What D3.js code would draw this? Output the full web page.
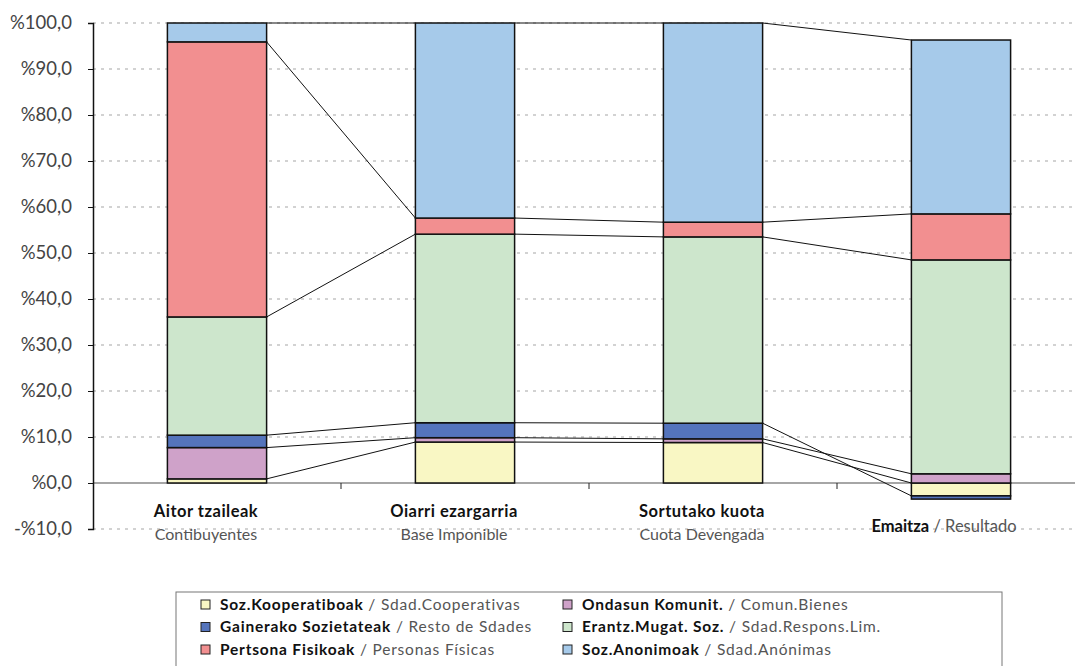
<!DOCTYPE html>
<html>
<head>
<meta charset="utf-8">
<script src="https://cdn.jsdelivr.net/npm/d3@7"></script>
<style>
  body { margin: 0; background: #fff; }
  svg { display: block; font-family: Lato, 'Open Sans', sans-serif; }
</style>
</head>
<body>
<div id="chart"></div>
<script>
// categories (bold basque / spanish)
const categories = ['Aitor tzaileak', 'Oiarri ezargarria', 'Sortutako kuota', 'Emaitza'];
const subLabels = ['Contibuyentes', 'Base Imponible', 'Cuota Devengada', 'Resultado'];

// series, bottom to top of the stack
const seriesEu = ['Soz.Kooperatiboak', 'Ondasun Komunit.', 'Gainerako Sozietateak', 'Erantz.Mugat. Soz.', 'Pertsona Fisikoak', 'Soz.Anonimoak'];
const seriesEs = ['Sdad.Cooperativas', 'Comun.Bienes', 'Resto de Sdades', 'Sdad.Respons.Lim.', 'Personas Físicas', 'Sdad.Anónimas'];
const colors = ['#f9f7c4', '#cfa2c9', '#5474bc', '#cde6cc', '#f28f90', '#a6caea'];

// percentage per category, same order as categories
const cooperativas = [0.9, 8.9, 8.8, -2.8];
const comunBienes = [6.8, 0.95, 0.8, 2.0];
const restoSdades = [2.7, 3.25, 3.4, -0.7];
const responsLim = [25.7, 41.0, 40.5, 46.5];
const personasFisicas = [59.8, 3.5, 3.2, 10.0];
const anonimas = [4.1, 42.4, 43.3, 37.8];

const yTicks = [-10, 0, 10, 20, 30, 40, 50, 60, 70, 80, 90, 100];

const allValues = [cooperativas, comunBienes, restoSdades, responsLim, personasFisicas, anonimas];

const width = 1075;
const height = 666;
const margin = { top: 23, left: 93, right: -10, bottom: 137 };

const rows = categories.map((c, i) => {
  const r = { cat: c };
  seriesEu.forEach((s, j) => { r[s] = allValues[j][i]; });
  return r;
});

const stacked = d3.stack().keys(seriesEu).offset(d3.stackOffsetDiverging)(rows);

const svg = d3.select('#chart').append('svg').attr('width', width).attr('height', height);

const x = d3.scaleBand()
  .domain(categories)
  .range([margin.left, width - margin.right])
  .paddingInner(0.6)
  .paddingOuter(0.3);

const y = d3.scaleLinear().domain([-10, 100]).range([height - margin.bottom, margin.top]);

// grid
svg.append('g')
  .selectAll('line')
  .data(yTicks.filter((t) => t !== 0))
  .join('line')
  .attr('x1', margin.left)
  .attr('x2', width - margin.right)
  .attr('y1', (d) => y(d))
  .attr('y2', (d) => y(d))
  .attr('stroke', '#c4c4c4')
  .attr('stroke-width', 1.5)
  .attr('stroke-dasharray', '3,5');

// category labels (under the bars, over the grid)
const step = x.step();
const labels = svg.append('g').attr('text-anchor', 'middle');
categories.forEach((c, i) => {
  const cx = x(c) + x.bandwidth() / 2 - 11;
  if (i < 3) {
    labels.append('text')
      .attr('x', cx).attr('y', 517)
      .attr('font-size', 16.5).attr('font-weight', 'bold').attr('fill', '#111')
      .attr('letter-spacing', 0.5)
      .text(c);
    labels.append('text')
      .attr('x', cx).attr('y', 540)
      .attr('font-size', 16).attr('fill', '#555')
      .text(subLabels[i]);
  } else {
    const t = labels.append('text')
      .attr('x', cx - 6).attr('y', 532)
      .attr('font-size', 16.5);
    t.append('tspan').attr('font-weight', 'bold').attr('fill', '#111').text(c);
    t.append('tspan').attr('fill', '#555').text(' / ' + subLabels[i]);
  }
});

// zero line
svg.append('line')
  .attr('x1', margin.left).attr('x2', width - margin.right)
  .attr('y1', y(0)).attr('y2', y(0))
  .attr('stroke', '#888').attr('stroke-width', 1.5);

// x ticks between categories
svg.append('g')
  .selectAll('line')
  .data(categories.slice(1))
  .join('line')
  .attr('x1', (d) => x(d) - step * 0.3)
  .attr('x2', (d) => x(d) - step * 0.3)
  .attr('y1', y(0))
  .attr('y2', y(0) + 6)
  .attr('stroke', '#222');

// series lines
const endOf = (d) => (d[1] - d[0] < 0 ? d[0] : d[1]);
const serLines = svg.append('g');
stacked.forEach((s) => {
  for (let i = 0; i < s.length - 1; i++) {
    serLines.append('line')
      .attr('x1', x(categories[i]) + x.bandwidth())
      .attr('x2', x(categories[i + 1]))
      .attr('y1', y(endOf(s[i])))
      .attr('y2', y(endOf(s[i + 1])))
      .attr('stroke', '#111')
      .attr('stroke-width', 1);
  }
});

// bars
svg.append('g')
  .selectAll('g')
  .data(stacked)
  .join('g')
  .attr('fill', (d, i) => colors[i])
  .selectAll('rect')
  .data((d) => d)
  .join('rect')
  .attr('x', (d) => x(d.data.cat))
  .attr('width', x.bandwidth())
  .attr('y', (d) => y(Math.max(d[0], d[1])))
  .attr('height', (d) => Math.abs(y(d[0]) - y(d[1])))
  .attr('stroke', '#111')
  .attr('stroke-width', 1.5);

// y axis
const yAxis = svg.append('g')
  .attr('transform', `translate(${margin.left},0)`)
  .call(d3.axisLeft(y).tickValues(yTicks).tickSize(5).tickPadding(16)
    .tickFormat((d) => (d < 0 ? '-%' + Math.abs(d) : '%' + d) + ',0'));
yAxis.select('.domain').attr('stroke', '#111').attr('stroke-width', 1.5);
yAxis.selectAll('.tick line').attr('stroke', '#111');
yAxis.selectAll('.tick text')
  .attr('font-size', 18.5)
  .attr('font-family', 'Lato, sans-serif')
  .attr('fill', '#444');

// legend
const legend = svg.append('g');
legend.append('rect')
  .attr('x', 176).attr('y', 592)
  .attr('width', 826).attr('height', 80)
  .attr('fill', 'none').attr('stroke', '#777').attr('stroke-width', 1);

seriesEu.forEach((s, i) => {
  const col = i % 2;
  const row = Math.floor(i / 2);
  const gx = col === 0 ? 201 : 563;
  const gy = 604 + row * 22.5;
  legend.append('rect')
    .attr('x', gx).attr('y', gy - 4)
    .attr('width', 9).attr('height', 9)
    .attr('fill', colors[i]).attr('stroke', '#222').attr('stroke-width', 1);
  const t = legend.append('text')
    .attr('x', gx + 19).attr('y', gy + 5.5)
    .attr('font-size', 15.5)
    .attr('letter-spacing', 0.8);
  t.append('tspan').attr('font-weight', 'bold').attr('fill', '#111').text(s);
  t.append('tspan').attr('fill', '#555').text(' / ' + seriesEs[i]);
});
</script>
</body>
</html>
